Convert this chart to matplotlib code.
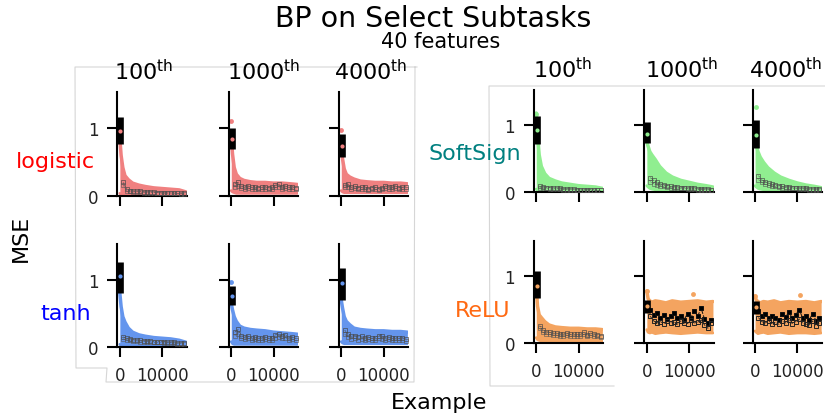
import matplotlib
matplotlib.use('Agg')
import matplotlib.pyplot as plt
from matplotlib.lines import Line2D

W, H = 825, 414

# ---------------- data ----------------
column_names = ['100', '1000', '4000']
activations = ['logistic', 'tanh', 'SoftSign', 'ReLU']
label_colors = ['#ff0000', '#0000ff', '#008080', '#ff6a13']
cloud_colors = ['#f08080', '#6495ed', '#90ee90', '#f4a460']

# x positions where the scatter-cloud envelope was read
env_x = [0, 300, 700, 1200, 2000, 3000, 4500, 6000, 8000, 10000, 12000, 14000, 15600]
# x positions of the binned averages (black squares)
bin_x = [800, 1600, 2400, 3200, 4000, 4800, 5600, 6400, 7200, 8000,
         8800, 9600, 10400, 11200, 12000, 12800, 13600, 14400, 15200]

# upper / lower edge of the cloud, one row per column (100th, 1000th, 4000th)
logistic_hi = [[0.85, 0.60, 0.42, 0.30, 0.24, 0.19, 0.16, 0.14, 0.12, 0.11, 0.10, 0.09, 0.06],
               [0.90, 0.62, 0.42, 0.32, 0.26, 0.23, 0.21, 0.20, 0.20, 0.19, 0.19, 0.18, 0.17],
               [0.75, 0.55, 0.40, 0.32, 0.28, 0.25, 0.22, 0.21, 0.20, 0.20, 0.19, 0.19, 0.18]]
logistic_lo = [[0.04, 0.02, 0.02, 0.01, 0.01, 0.01, 0.01, 0.01, 0.01, 0.01, 0.01, 0.01, 0.01],
               [0.08, 0.06, 0.05, 0.04, 0.04, 0.04, 0.04, 0.04, 0.04, 0.04, 0.04, 0.04, 0.04],
               [0.08, 0.06, 0.05, 0.05, 0.05, 0.05, 0.05, 0.05, 0.05, 0.05, 0.05, 0.05, 0.05]]
tanh_hi = [[0.80, 0.60, 0.45, 0.37, 0.28, 0.22, 0.18, 0.16, 0.14, 0.13, 0.12, 0.10, 0.07],
           [0.65, 0.55, 0.45, 0.38, 0.31, 0.28, 0.26, 0.25, 0.24, 0.22, 0.21, 0.20, 0.19],
           [0.70, 0.58, 0.45, 0.38, 0.33, 0.28, 0.26, 0.25, 0.24, 0.24, 0.23, 0.23, 0.22]]
tanh_lo = [[0.04, 0.02, 0.02, 0.01, 0.01, 0.01, 0.01, 0.01, 0.01, 0.01, 0.01, 0.01, 0.01],
           [0.08, 0.05, 0.04, 0.04, 0.04, 0.04, 0.04, 0.04, 0.04, 0.04, 0.04, 0.04, 0.04],
           [0.08, 0.06, 0.05, 0.05, 0.05, 0.05, 0.05, 0.05, 0.05, 0.05, 0.05, 0.05, 0.05]]
softsign_hi = [[1.18, 0.85, 0.55, 0.38, 0.27, 0.20, 0.16, 0.13, 0.11, 0.09, 0.08, 0.07, 0.05],
               [0.75, 0.68, 0.60, 0.55, 0.48, 0.38, 0.28, 0.22, 0.17, 0.14, 0.11, 0.09, 0.07],
               [0.85, 0.70, 0.60, 0.52, 0.44, 0.36, 0.28, 0.22, 0.17, 0.13, 0.10, 0.08, 0.06]]
softsign_lo = [[0.04, 0.02, 0.01, 0.01, 0.01, 0.01, 0.01, 0.01, 0.01, 0.01, 0.01, 0.01, 0.01],
               [0.09, 0.07, 0.05, 0.04, 0.03, 0.02, 0.02, 0.01, 0.01, 0.01, 0.01, 0.01, 0.01],
               [0.09, 0.07, 0.05, 0.04, 0.03, 0.02, 0.02, 0.01, 0.01, 0.01, 0.01, 0.01, 0.01]]
relu_hi = [[0.85, 0.55, 0.42, 0.38, 0.32, 0.27, 0.24, 0.23, 0.22, 0.22, 0.21, 0.21, 0.20],
           [0.78, 0.66, 0.63, 0.61, 0.63, 0.62, 0.60, 0.63, 0.61, 0.62, 0.63, 0.61, 0.62],
           [0.70, 0.64, 0.62, 0.60, 0.62, 0.61, 0.63, 0.60, 0.62, 0.61, 0.62, 0.60, 0.62]]
relu_lo = [[0.08, 0.05, 0.04, 0.03, 0.03, 0.03, 0.03, 0.03, 0.03, 0.03, 0.03, 0.03, 0.03],
           [0.20, 0.16, 0.15, 0.16, 0.14, 0.15, 0.16, 0.15, 0.14, 0.15, 0.16, 0.15, 0.15],
           [0.18, 0.16, 0.14, 0.15, 0.16, 0.14, 0.15, 0.16, 0.14, 0.15, 0.15, 0.14, 0.15]]

# binned averages, two traces per panel
logistic_sq1 = [[0.20, 0.10, 0.08, 0.07, 0.07, 0.07, 0.06, 0.06, 0.06, 0.06, 0.05, 0.05, 0.05, 0.05, 0.05, 0.05, 0.04, 0.04, 0.04],
                [0.18, 0.20, 0.15, 0.14, 0.15, 0.13, 0.14, 0.12, 0.13, 0.14, 0.12, 0.13, 0.16, 0.17, 0.14, 0.15, 0.13, 0.14, 0.12],
                [0.16, 0.17, 0.13, 0.15, 0.12, 0.13, 0.14, 0.11, 0.12, 0.13, 0.11, 0.12, 0.15, 0.14, 0.13, 0.15, 0.12, 0.13, 0.14]]
logistic_sq2 = [[0.16, 0.08, 0.07, 0.06, 0.06, 0.06, 0.05, 0.05, 0.05, 0.05, 0.05, 0.04, 0.04, 0.04, 0.04, 0.04, 0.04, 0.03, 0.03],
                [0.14, 0.15, 0.12, 0.11, 0.12, 0.10, 0.11, 0.10, 0.10, 0.11, 0.10, 0.11, 0.13, 0.14, 0.11, 0.12, 0.10, 0.11, 0.10],
                [0.13, 0.14, 0.10, 0.12, 0.10, 0.10, 0.11, 0.09, 0.10, 0.10, 0.09, 0.10, 0.12, 0.11, 0.10, 0.12, 0.10, 0.10, 0.11]]
tanh_sq1 = [[0.15, 0.13, 0.12, 0.11, 0.10, 0.10, 0.09, 0.09, 0.09, 0.08, 0.08, 0.08, 0.08, 0.07, 0.07, 0.07, 0.06, 0.06, 0.06],
            [0.22, 0.26, 0.17, 0.15, 0.16, 0.14, 0.15, 0.13, 0.14, 0.15, 0.13, 0.14, 0.18, 0.19, 0.17, 0.18, 0.14, 0.15, 0.13],
            [0.25, 0.20, 0.16, 0.17, 0.15, 0.16, 0.14, 0.15, 0.13, 0.14, 0.17, 0.16, 0.14, 0.15, 0.13, 0.14, 0.13, 0.14, 0.12]]
tanh_sq2 = [[0.12, 0.11, 0.10, 0.09, 0.09, 0.08, 0.08, 0.08, 0.07, 0.07, 0.07, 0.07, 0.06, 0.06, 0.06, 0.06, 0.05, 0.05, 0.05],
            [0.17, 0.20, 0.13, 0.12, 0.13, 0.11, 0.12, 0.10, 0.11, 0.12, 0.10, 0.11, 0.14, 0.15, 0.13, 0.14, 0.11, 0.12, 0.10],
            [0.19, 0.15, 0.12, 0.13, 0.11, 0.12, 0.11, 0.12, 0.10, 0.11, 0.13, 0.12, 0.11, 0.12, 0.10, 0.11, 0.10, 0.11, 0.09]]
softsign_sq1 = [[0.08, 0.07, 0.06, 0.06, 0.05, 0.05, 0.05, 0.04, 0.04, 0.04, 0.04, 0.03, 0.03, 0.03, 0.03, 0.03, 0.03, 0.02, 0.02],
                [0.21, 0.17, 0.14, 0.12, 0.10, 0.09, 0.08, 0.07, 0.07, 0.06, 0.06, 0.05, 0.05, 0.05, 0.04, 0.04, 0.04, 0.04, 0.03],
                [0.24, 0.18, 0.15, 0.13, 0.11, 0.10, 0.09, 0.08, 0.07, 0.07, 0.06, 0.06, 0.05, 0.05, 0.05, 0.04, 0.04, 0.04, 0.04]]
softsign_sq2 = [[0.06, 0.05, 0.05, 0.04, 0.04, 0.04, 0.04, 0.03, 0.03, 0.03, 0.03, 0.03, 0.02, 0.02, 0.02, 0.02, 0.02, 0.02, 0.02],
                [0.15, 0.12, 0.10, 0.09, 0.08, 0.07, 0.06, 0.06, 0.05, 0.05, 0.05, 0.04, 0.04, 0.04, 0.03, 0.03, 0.03, 0.03, 0.03],
                [0.18, 0.14, 0.11, 0.10, 0.09, 0.08, 0.07, 0.06, 0.06, 0.05, 0.05, 0.05, 0.04, 0.04, 0.04, 0.03, 0.03, 0.03, 0.03]]
relu_sq1 = [[0.26, 0.20, 0.17, 0.16, 0.15, 0.15, 0.14, 0.14, 0.15, 0.13, 0.14, 0.13, 0.13, 0.16, 0.12, 0.15, 0.14, 0.12, 0.11],
            [0.50, 0.42, 0.45, 0.38, 0.42, 0.36, 0.40, 0.45, 0.37, 0.41, 0.35, 0.44, 0.38, 0.48, 0.40, 0.52, 0.36, 0.30, 0.35],
            [0.48, 0.40, 0.43, 0.37, 0.41, 0.38, 0.35, 0.44, 0.39, 0.46, 0.37, 0.42, 0.50, 0.38, 0.41, 0.35, 0.44, 0.33, 0.38]]
relu_sq2 = [[0.22, 0.16, 0.14, 0.13, 0.12, 0.12, 0.11, 0.11, 0.12, 0.10, 0.11, 0.10, 0.10, 0.13, 0.10, 0.12, 0.11, 0.10, 0.09],
            [0.40, 0.33, 0.30, 0.32, 0.29, 0.33, 0.30, 0.31, 0.28, 0.33, 0.30, 0.29, 0.34, 0.30, 0.31, 0.35, 0.27, 0.22, 0.30],
            [0.38, 0.32, 0.30, 0.33, 0.29, 0.31, 0.28, 0.33, 0.30, 0.34, 0.29, 0.32, 0.36, 0.30, 0.28, 0.27, 0.33, 0.26, 0.30]]

# thick black bar at the start of training and the coloured point on it
logistic_bar = [[0.76, 1.16, 0.96], [0.70, 1.00, 0.84], [0.57, 0.91, 0.74]]
tanh_bar = [[0.80, 1.27, 1.05], [0.63, 0.90, 0.76], [0.70, 1.18, 0.95]]
softsign_bar = [[0.72, 1.14, 0.92], [0.73, 1.04, 0.87], [0.66, 1.07, 0.85]]
relu_bar = [[0.68, 1.07, 0.85], [0.45, 0.64, 0.55], [0.44, 0.63, 0.54]]

# isolated points above the cloud
logistic_out_x = [[], [0], [0]]
logistic_out_y = [[], [1.10], [0.98]]
tanh_out_x = [[], [0], []]
tanh_out_y = [[], [0.96], []]
softsign_out_x = [[0], [], [250]]
softsign_out_y = [[1.16], [], [1.27]]
relu_out_x = [[], [0, 11000], [0, 10500]]
relu_out_y = [[], [0.78, 0.74], [0.70, 0.72]]

all_hi = [logistic_hi, tanh_hi, softsign_hi, relu_hi]
all_lo = [logistic_lo, tanh_lo, softsign_lo, relu_lo]
all_sq1 = [logistic_sq1, tanh_sq1, softsign_sq1, relu_sq1]
all_sq2 = [logistic_sq2, tanh_sq2, softsign_sq2, relu_sq2]
all_bar = [logistic_bar, tanh_bar, softsign_bar, relu_bar]
all_out_x = [logistic_out_x, tanh_out_x, softsign_out_x, relu_out_x]
all_out_y = [logistic_out_y, tanh_out_y, softsign_out_y, relu_out_y]

# ---------------- layout (pixels of the 825x414 picture) ----------------
col_left = [[117.3, 228.7, 338.7], [117.3, 228.7, 338.7],
            [533.7, 644.3, 752.5], [533.7, 644.3, 752.5]]
panel_w = 69.5
panel_top = [93.3, 245.0, 90.7, 241.7]
panel_bottom = [197.0, 348.0, 192.7, 344.0]
label_pos = [(55, 168), (66, 320), (475, 160), (483, 317)]
header_x = [[144, 263.5, 370.5], [562.5, 681.5, 786]]
header_y = [80, 78]

plt.rcParams['font.family'] = 'DejaVu Sans'
fig = plt.figure(figsize=(W / 100, H / 100), dpi=100)


def fx(x):
    return x / W


def fy(y):
    return 1 - y / H


# light frames of the two pasted sub-figures
frame_color = '#d6d6d6'
fig.add_artist(Line2D([fx(v) for v in [417, 75, 76, 107, 106, 414, 415]],
                      [fy(v) for v in [68, 68, 369, 369, 383, 383, 68]],
                      color=frame_color, lw=0.8))
fig.add_artist(Line2D([fx(v) for v in [826, 489, 490, 614]],
                      [fy(v) for v in [87, 87, 387, 387]],
                      color=frame_color, lw=0.8))

for r in range(4):
    for c in range(3):
        l = col_left[r][c]
        t, b = panel_top[r], panel_bottom[r]
        ax = fig.add_axes([fx(l), fy(b), panel_w / W, (b - t) / H])
        col = cloud_colors[r]

        hi = all_hi[r][c]
        lo = all_lo[r][c]
        ax.fill_between(env_x, lo, hi, color=col, lw=0, zorder=1)
        ax.plot(env_x, hi, color=col, lw=2.5, solid_capstyle='round', zorder=1)
        ax.plot(env_x, lo, color=col, lw=2.0, solid_capstyle='round', zorder=1)
        ax.plot(all_out_x[r][c], all_out_y[r][c], 'o', color=col, ms=3.5, mew=0, zorder=1)

        if r == 3 and c > 0:
            ax.plot(bin_x, all_sq1[r][c], ls='--', color='#111111', lw=0.7, marker='s',
                    ms=3.5, mfc='k', mew=0.7, zorder=3)
            ax.plot(bin_x, all_sq2[r][c], ls='--', color='#222222', lw=0.6, marker='s',
                    ms=3.2, mfc='none', mew=0.7, zorder=3)
        else:
            ax.plot(bin_x, all_sq1[r][c], ls='--', color='#444444', lw=0.4, marker='s',
                    ms=2.6, mfc='none', mew=0.45, zorder=3)
            ax.plot(bin_x, all_sq2[r][c], ls='--', color='#555555', lw=0.35, marker='s',
                    ms=2.2, mfc='none', mew=0.4, zorder=3)

        blo, bhi, bdot = all_bar[r][c]
        ax.plot([150, 150], [blo, bhi], color='k', lw=4.8, solid_capstyle='butt', zorder=4)
        ax.plot([150], [bdot], 'o', color=col, ms=3, mew=0, zorder=5)

        ax.set_xlim(-600, 15800)
        ax.set_ylim(0, 1.53)
        ax.set_xticks([0, 10000])
        ax.set_yticks([0, 1])
        ax.set_yticklabels(['0', '1'])
        ax.spines['top'].set_visible(False)
        ax.spines['right'].set_visible(False)
        for s in ['left', 'bottom']:
            ax.spines[s].set_linewidth(1.5)
        ax.tick_params(length=7.5, width=1.5, labelsize=12, pad=6, colors='k',
                       labelcolor='#222222')
        ax.patch.set_alpha(0)
        if r in (0, 2):
            ax.tick_params(labelbottom=False)
        if c > 0:
            ax.tick_params(labelleft=False)

    lx, ly = label_pos[r]
    fig.text(fx(lx), fy(ly), activations[r], color=label_colors[r], fontsize=16,
             ha='center', va='baseline')

for g in range(2):
    for c in range(3):
        fig.text(fx(header_x[g][c]), fy(header_y[g]), column_names[c] + r'$^{\mathrm{th}}$',
                 fontsize=16, ha='center', va='baseline')

fig.text(fx(433), fy(26.7), 'BP on Select Subtasks', fontsize=20.5, ha='center', va='baseline')
fig.text(fx(441), fy(48.3), '40 features', fontsize=15, ha='center', va='baseline')
fig.text(fx(21), fy(238), 'MSE', fontsize=16, rotation=90, ha='center', va='center')
fig.text(fx(439), fy(409), 'Example', fontsize=16, ha='center', va='baseline')

fig.savefig('out.png', dpi=100)
